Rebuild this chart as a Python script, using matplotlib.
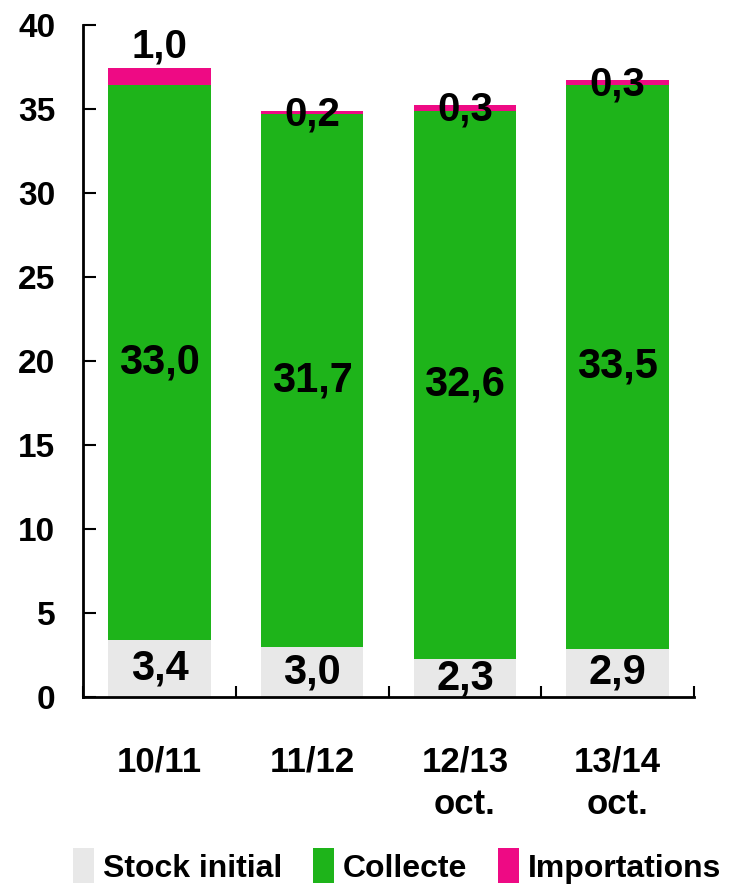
import matplotlib.pyplot as plt
import numpy as np

plt.rcParams["font.family"] = ["Liberation Sans", "DejaVu Sans"]
plt.rcParams["font.weight"] = "bold"

CATEGORIES = ["10/11", "11/12", "12/13\noct.", "13/14\noct."]
STOCK = [3.4, 3.0, 2.3, 2.9]
COLLECTE = [33.0, 31.7, 32.6, 33.5]
IMPORTS = [1.0, 0.2, 0.3, 0.3]

COLORS = {"Stock initial": "#E8E8E8", "Collecte": "#1EB41A", "Importations": "#EE0A84"}

x = np.arange(len(CATEGORIES))
stock = np.array(STOCK)
collecte = np.array(COLLECTE)
imports = np.array(IMPORTS)

fig = plt.figure(figsize=(7.29, 8.85), dpi=100)
ax = fig.add_axes([0.114, 0.212, 0.838, 0.76])

w = 0.67
b1 = ax.bar(x, stock, w, color=COLORS["Stock initial"], label="Stock initial")
b2 = ax.bar(x, collecte, w, bottom=stock, color=COLORS["Collecte"], label="Collecte")
b3 = ax.bar(x, imports, w, bottom=stock + collecte, color=COLORS["Importations"], label="Importations")

fmt = lambda v: f"{v:.1f}".replace(".", ",")
for i in range(len(x)):
    ax.text(x[i], stock[i] / 2, fmt(stock[i]), ha="center", va="center", fontsize=30, fontweight="bold")
    ax.text(x[i], stock[i] + collecte[i] / 2, fmt(collecte[i]), ha="center", va="center",
            fontsize=30, fontweight="bold")
    top = stock[i] + collecte[i] + imports[i]
    if imports[i] >= 0.5:
        ax.annotate(fmt(imports[i]), (x[i], top), xytext=(0, 2), textcoords="offset points",
                    ha="center", va="bottom", fontsize=29, fontweight="bold")
    else:
        ax.annotate(fmt(imports[i]), (x[i], top), xytext=(0, -3), textcoords="offset points",
                    ha="center", va="center", fontsize=29, fontweight="bold")

ax.set_xlim(-0.5, len(x) - 0.5)
ax.set_ylim(0, 40)
ax.set_yticks(range(0, 41, 5))
ax.tick_params(axis="y", direction="in", length=9, width=1.5, pad=20, labelsize=24)

ax.set_xticks(x)
ax.set_xticklabels(CATEGORIES, fontsize=25, fontweight="bold", linespacing=1.35, va="top")
ax.tick_params(axis="x", length=0, pad=35)
ax.set_xticks(np.arange(-0.5, len(x)), minor=True)
ax.tick_params(axis="x", which="minor", direction="in", length=8, width=1.5)

for s in ["top", "right"]:
    ax.spines[s].set_visible(False)
for s in ["left", "bottom"]:
    ax.spines[s].set_linewidth(2)

fig.legend(handles=[b1, b2, b3], loc="lower center", bbox_to_anchor=(0.545, -0.02), ncol=3,
           frameon=False, fontsize=23, handlelength=0.65, handleheight=1.3, handletextpad=0.3,
           columnspacing=0.95, borderaxespad=0.2)

fig.savefig("out.png", dpi=100)
